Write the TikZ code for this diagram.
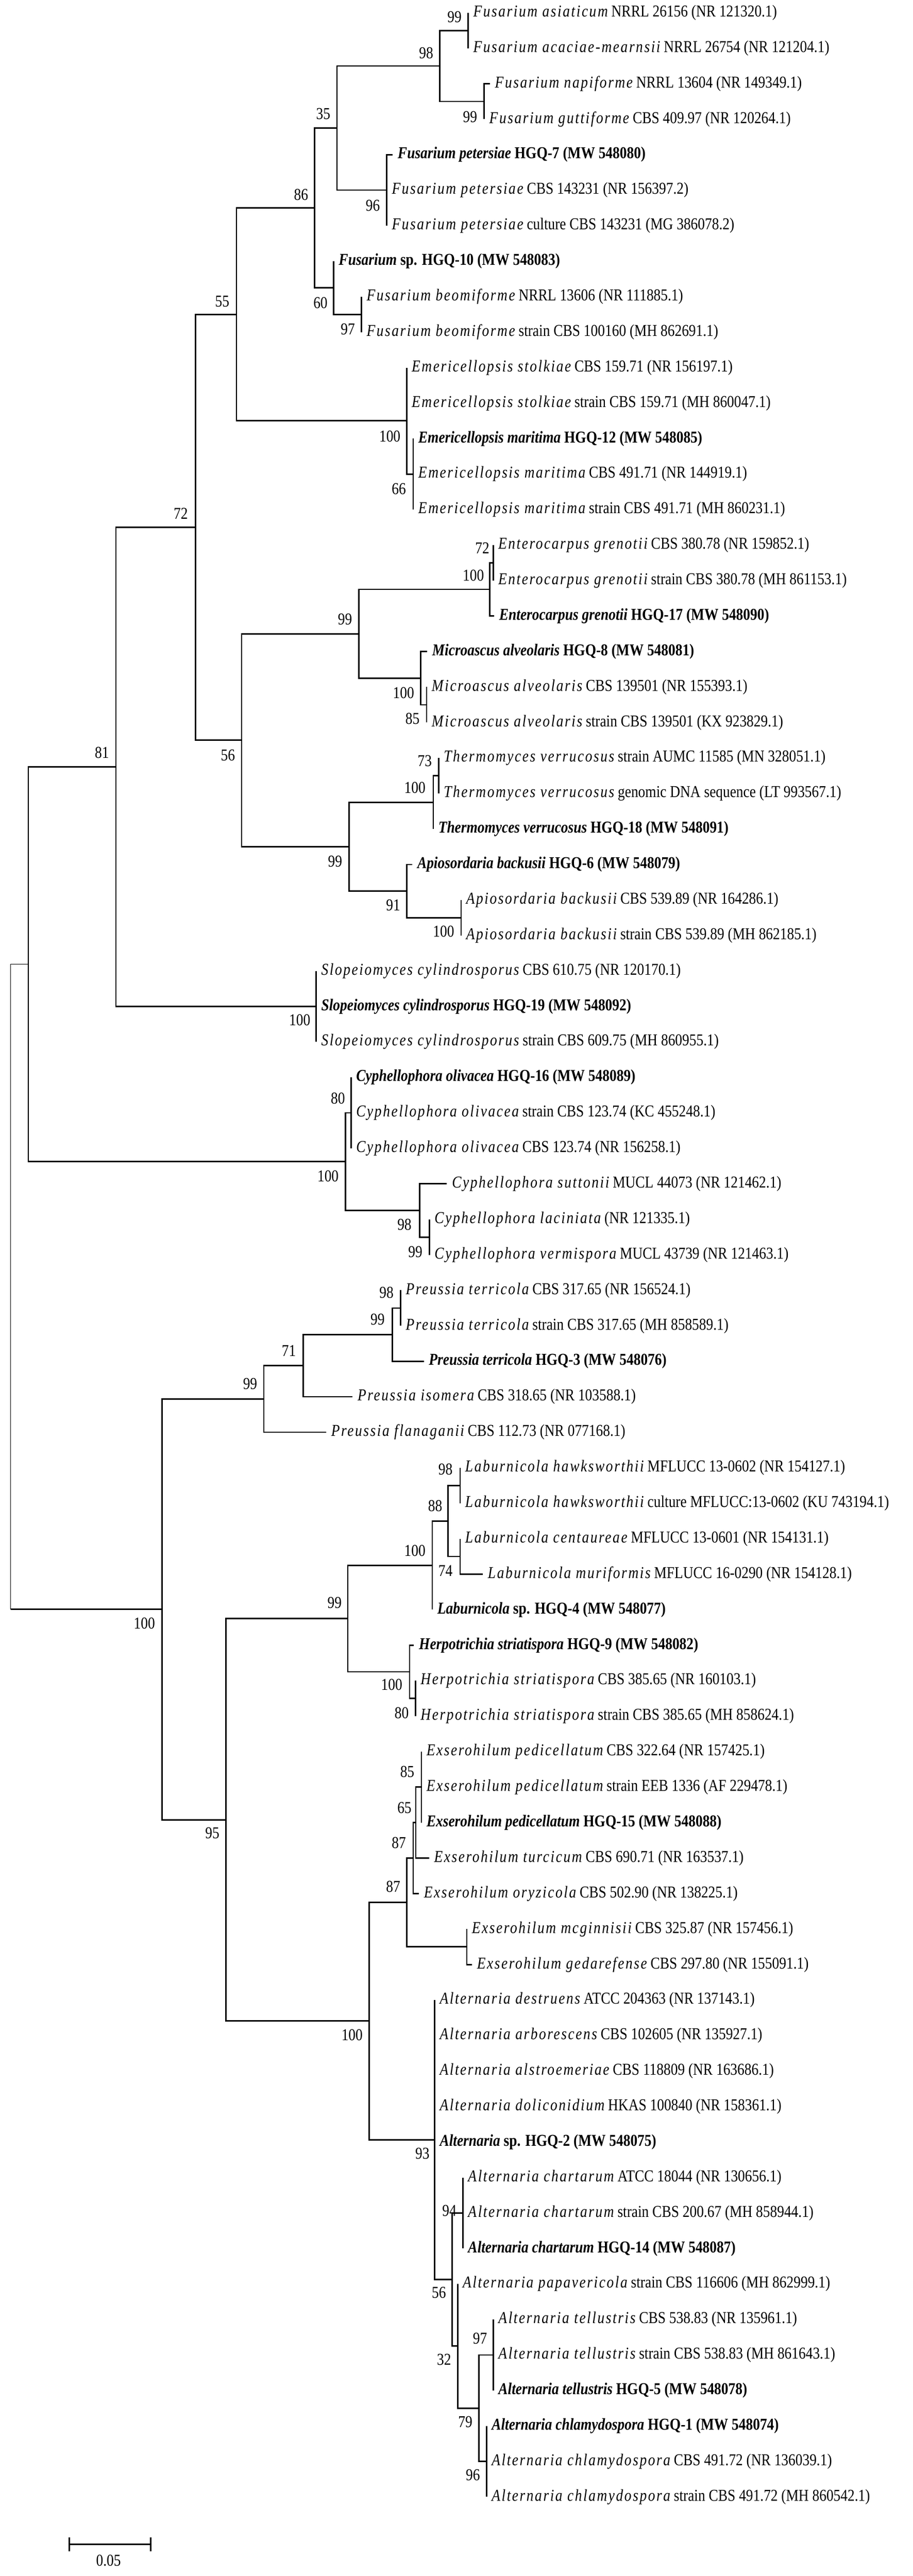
\documentclass[tikz,border=0pt]{standalone}
\usepackage{fontspec}
\setmainfont{Liberation Serif}[FakeStretch=0.85]
\usepackage{tikz}
% species names, spaced italics
\newcommand{\spn}[1]{{\itshape\addfontfeature{LetterSpace=8}#1}}
\begin{document}
\begin{tikzpicture}[x=0.25pt, y=-18.8pt, font=\fontsize{8.8}{9}\selectfont,
    br/.style={line width=0.75pt},
    leaf/.style={anchor=west, inner xsep=2.5pt, inner ysep=0pt},
    hgq/.style={leaf, font=\fontsize{8.8}{9}\selectfont\bfseries},
    bs/.style={inner sep=0pt}]
\useasboundingbox (0,0.641) rectangle (1934,73.23);
% leaves
\node[leaf] (l1) at (992,1) {\spn{Fusarium asiaticum} NRRL 26156 (NR 121320.1)};
\node[leaf] (l2) at (992,2) {\spn{Fusarium acaciae-mearnsii} NRRL 26754 (NR 121204.1)};
\node[leaf] (l3) at (1038,3) {\spn{Fusarium napiforme} NRRL 13604 (NR 149349.1)};
\node[leaf] (l4) at (1026,4) {\spn{Fusarium guttiforme} CBS 409.97 (NR 120264.1)};
\node[hgq] (l5) at (832,5) {\textit{Fusarium petersiae} HGQ-7 (MW 548080)};
\node[leaf] (l6) at (819.5,6) {\spn{Fusarium petersiae} CBS 143231 (NR 156397.2)};
\node[leaf] (l7) at (819.5,7) {\spn{Fusarium petersiae} culture CBS 143231 (MG 386078.2)};
\node[hgq] (l8) at (707,8) {\textit{Fusarium} sp. HGQ-10 (MW 548083)};
\node[leaf] (l9) at (766,9) {\spn{Fusarium beomiforme} NRRL 13606 (NR 111885.1)};
\node[leaf] (l10) at (766,10) {\spn{Fusarium beomiforme} strain CBS 100160 (MH 862691.1)};
\node[leaf] (l11) at (861.6,11) {\spn{Emericellopsis stolkiae} CBS 159.71 (NR 156197.1)};
\node[leaf] (l12) at (861.6,12) {\spn{Emericellopsis stolkiae} strain CBS 159.71 (MH 860047.1)};
\node[hgq] (l13) at (875.6,13) {\textit{Emericellopsis maritima} HGQ-12 (MW 548085)};
\node[leaf] (l14) at (875.6,14) {\spn{Emericellopsis maritima} CBS 491.71 (NR 144919.1)};
\node[leaf] (l15) at (875.6,15) {\spn{Emericellopsis maritima} strain CBS 491.71 (MH 860231.1)};
\node[leaf] (l16) at (1045,16) {\spn{Enterocarpus grenotii} CBS 380.78 (NR 159852.1)};
\node[leaf] (l17) at (1045,17) {\spn{Enterocarpus grenotii} strain CBS 380.78 (MH 861153.1)};
\node[hgq] (l18) at (1047,18) {\textit{Enterocarpus grenotii} HGQ-17 (MW 548090)};
\node[hgq] (l19) at (905,19) {\textit{Microascus alveolaris} HGQ-8 (MW 548081)};
\node[leaf] (l20) at (904,20) {\spn{Microascus alveolaris} CBS 139501 (NR 155393.1)};
\node[leaf] (l21) at (904,21) {\spn{Microascus alveolaris} strain CBS 139501 (KX 923829.1)};
\node[leaf] (l22) at (929.6,22) {\spn{Thermomyces verrucosus} strain AUMC 11585 (MN 328051.1)};
\node[leaf] (l23) at (929.6,23) {\spn{Thermomyces verrucosus} genomic DNA sequence (LT 993567.1)};
\node[hgq] (l24) at (918,24) {\textit{Thermomyces verrucosus} HGQ-18 (MW 548091)};
\node[hgq] (l25) at (873.5,25) {\textit{Apiosordaria backusii} HGQ-6 (MW 548079)};
\node[leaf] (l26) at (977,26) {\spn{Apiosordaria backusii} CBS 539.89 (NR 164286.1)};
\node[leaf] (l27) at (977,27) {\spn{Apiosordaria backusii} strain CBS 539.89 (MH 862185.1)};
\node[leaf] (l28) at (670,28) {\spn{Slopeiomyces cylindrosporus} CBS 610.75 (NR 120170.1)};
\node[hgq] (l29) at (670,29) {\textit{Slopeiomyces cylindrosporus} HGQ-19 (MW 548092)};
\node[leaf] (l30) at (670,30) {\spn{Slopeiomyces cylindrosporus} strain CBS 609.75 (MH 860955.1)};
\node[hgq] (l31) at (744,31) {\textit{Cyphellophora olivacea} HGQ-16 (MW 548089)};
\node[leaf] (l32) at (744,32) {\spn{Cyphellophora olivacea} strain CBS 123.74 (KC 455248.1)};
\node[leaf] (l33) at (744,33) {\spn{Cyphellophora olivacea} CBS 123.74 (NR 156258.1)};
\node[leaf] (l34) at (947,34) {\spn{Cyphellophora suttonii} MUCL 44073 (NR 121462.1)};
\node[leaf] (l35) at (910,35) {\spn{Cyphellophora laciniata} (NR 121335.1)};
\node[leaf] (l36) at (910,36) {\spn{Cyphellophora vermispora} MUCL 43739 (NR 121463.1)};
\node[leaf] (l37) at (849,37) {\spn{Preussia terricola} CBS 317.65 (NR 156524.1)};
\node[leaf] (l38) at (849,38) {\spn{Preussia terricola} strain CBS 317.65 (MH 858589.1)};
\node[hgq] (l39) at (898,39) {\textit{Preussia terricola} HGQ-3 (MW 548076)};
\node[leaf] (l40) at (747,40) {\spn{Preussia isomera} CBS 318.65 (NR 103588.1)};
\node[leaf] (l41) at (691,41) {\spn{Preussia flanaganii} CBS 112.73 (NR 077168.1)};
\node[leaf] (l42) at (975,42) {\spn{Laburnicola hawksworthii} MFLUCC 13-0602 (NR 154127.1)};
\node[leaf] (l43) at (975,43) {\spn{Laburnicola hawksworthii} culture MFLUCC:13-0602 (KU 743194.1)};
\node[leaf] (l44) at (975,44) {\spn{Laburnicola centaureae} MFLUCC 13-0601 (NR 154131.1)};
\node[leaf] (l45) at (1023,45) {\spn{Laburnicola muriformis} MFLUCC 16-0290 (NR 154128.1)};
\node[hgq] (l46) at (916,46) {\textit{Laburnicola} sp. HGQ-4 (MW 548077)};
\node[hgq] (l47) at (877,47) {\textit{Herpotrichia striatispora} HGQ-9 (MW 548082)};
\node[leaf] (l48) at (880.5,48) {\spn{Herpotrichia striatispora} CBS 385.65 (NR 160103.1)};
\node[leaf] (l49) at (880.5,49) {\spn{Herpotrichia striatispora} strain CBS 385.65 (MH 858624.1)};
\node[leaf] (l50) at (893,50) {\spn{Exserohilum pedicellatum} CBS 322.64 (NR 157425.1)};
\node[leaf] (l51) at (893,51) {\spn{Exserohilum pedicellatum} strain EEB 1336 (AF 229478.1)};
\node[hgq] (l52) at (893,52) {\textit{Exserohilum pedicellatum} HGQ-15 (MW 548088)};
\node[leaf] (l53) at (909,53) {\spn{Exserohilum turcicum} CBS 690.71 (NR 163537.1)};
\node[leaf] (l54) at (887.5,54) {\spn{Exserohilum oryzicola} CBS 502.90 (NR 138225.1)};
\node[leaf] (l55) at (989,55) {\spn{Exserohilum mcginnisii} CBS 325.87 (NR 157456.1)};
\node[leaf] (l56) at (1000,56) {\spn{Exserohilum gedarefense} CBS 297.80 (NR 155091.1)};
\node[leaf] (l57) at (921,57) {\spn{Alternaria destruens} ATCC 204363 (NR 137143.1)};
\node[leaf] (l58) at (921,58) {\spn{Alternaria arborescens} CBS 102605 (NR 135927.1)};
\node[leaf] (l59) at (921,59) {\spn{Alternaria alstroemeriae} CBS 118809 (NR 163686.1)};
\node[leaf] (l60) at (921,60) {\spn{Alternaria doliconidium} HKAS 100840 (NR 158361.1)};
\node[hgq] (l61) at (921,61) {\textit{Alternaria} sp. HGQ-2 (MW 548075)};
\node[leaf] (l62) at (981,62) {\spn{Alternaria chartarum} ATCC 18044 (NR 130656.1)};
\node[leaf] (l63) at (981,63) {\spn{Alternaria chartarum} strain CBS 200.67 (MH 858944.1)};
\node[hgq] (l64) at (981,64) {\textit{Alternaria chartarum} HGQ-14 (MW 548087)};
\node[leaf] (l65) at (969.6,65) {\spn{Alternaria papavericola} strain CBS 116606 (MH 862999.1)};
\node[leaf] (l66) at (1045.4,66) {\spn{Alternaria tellustris} CBS 538.83 (NR 135961.1)};
\node[leaf] (l67) at (1045.4,67) {\spn{Alternaria tellustris} strain CBS 538.83 (MH 861643.1)};
\node[hgq] (l68) at (1045.4,68) {\textit{Alternaria tellustris} HGQ-5 (MW 548078)};
\node[hgq] (l69) at (1031,69) {\textit{Alternaria chlamydospora} HGQ-1 (MW 548074)};
\node[leaf] (l70) at (1031,70) {\spn{Alternaria chlamydospora} CBS 491.72 (NR 136039.1)};
\node[leaf] (l71) at (1031,71) {\spn{Alternaria chlamydospora} strain CBS 491.72 (MH 860542.1)};
% inner nodes
\coordinate (n99a) at (992,1.5);
\coordinate (n99b) at (1026,3.5);
\coordinate (n98) at (932,2.5);
\coordinate (n96) at (819.5,6);
\coordinate (n35) at (714,4.25);
\coordinate (n97) at (766,9.5);
\coordinate (n60) at (707,8.75);
\coordinate (n86) at (666.5,6.5);
\coordinate (n66) at (875.6,14);
\coordinate (n100e) at (861.6,12.5);
\coordinate (n55) at (501,9.5);
\coordinate (n72e) at (1045,16.5);
\coordinate (n100g) at (1038,17.25);
\coordinate (n85m) at (904,20.5);
\coordinate (n100m) at (891,19.75);
\coordinate (n99em) at (760,18.5);
\coordinate (n73t) at (929.6,22.5);
\coordinate (n100t) at (918,23.25);
\coordinate (n100a) at (977,26.5);
\coordinate (n91) at (861.6,25.75);
\coordinate (n99ta) at (740,24.5);
\coordinate (n56) at (512,21.5);
\coordinate (n72) at (414,15.5);
\coordinate (n100s) at (670,29);
\coordinate (n81) at (245.6,22.25);
\coordinate (n80) at (744,32);
\coordinate (n99c) at (910,35.5);
\coordinate (n98c) at (889,34.75);
\coordinate (n100c) at (732,33.375);
\coordinate (nA) at (60,27.81);
\coordinate (n98p) at (849,37.5);
\coordinate (n99p) at (831,38.25);
\coordinate (n71) at (642.7,39.125);
\coordinate (n99pp) at (559,40.06);
\coordinate (n98l) at (975,42.5);
\coordinate (n74) at (975,44.5);
\coordinate (n88) at (949,43.5);
\coordinate (n100l) at (916,44.75);
\coordinate (n80h) at (880.5,48.5);
\coordinate (n100h) at (868,47.75);
\coordinate (n99lh) at (737,46.25);
\coordinate (n85x) at (893,51);
\coordinate (n65) at (881,52);
\coordinate (n87a) at (875.6,53);
\coordinate (n99x) at (989,55.5);
\coordinate (n87b) at (861.6,54.25);
\coordinate (n94) at (981,63);
\coordinate (n97a) at (1045.4,67);
\coordinate (n96a) at (1031,70);
\coordinate (n79) at (1014.6,68.5);
\coordinate (n32) at (969.6,66.75);
\coordinate (n56a) at (957.7,64.875);
\coordinate (n93) at (921,60.94);
\coordinate (n100x) at (782,57.59);
\coordinate (n95) at (479,51.92);
\coordinate (n100b) at (343,45.99);
\coordinate (root) at (22.5,36.9);
% branches
\foreach \p/\c in {n99a/l1, n99a/l2, n99b/l3, n99b/l4, n98/n99a, n98/n99b,
    n96/l5, n96/l6, n96/l7, n35/n98, n35/n96, n97/l9, n97/l10, n60/l8, n60/n97,
    n86/n35, n86/n60, n66/l13, n66/l14, n66/l15, n100e/l11, n100e/l12, n100e/n66,
    n55/n86, n55/n100e, n72e/l16, n72e/l17, n100g/n72e, n100g/l18,
    n85m/l20, n85m/l21, n100m/l19, n100m/n85m, n99em/n100g, n99em/n100m,
    n73t/l22, n73t/l23, n100t/n73t, n100t/l24, n100a/l26, n100a/l27,
    n91/l25, n91/n100a, n99ta/n100t, n99ta/n91, n56/n99em, n56/n99ta,
    n72/n55, n72/n56, n100s/l28, n100s/l29, n100s/l30, n81/n72, n81/n100s,
    n80/l31, n80/l32, n80/l33, n99c/l35, n99c/l36, n98c/l34, n98c/n99c,
    n100c/n80, n100c/n98c, nA/n81, nA/n100c,
    n98p/l37, n98p/l38, n99p/n98p, n99p/l39, n71/n99p, n71/l40,
    n99pp/n71, n99pp/l41, n98l/l42, n98l/l43, n74/l44, n74/l45,
    n88/n98l, n88/n74, n100l/n88, n100l/l46, n80h/l48, n80h/l49,
    n100h/l47, n100h/n80h, n99lh/n100l, n99lh/n100h,
    n85x/l50, n85x/l51, n85x/l52, n65/n85x, n65/l53, n87a/n65, n87a/l54,
    n99x/l55, n99x/l56, n87b/n87a, n87b/n99x,
    n94/l62, n94/l63, n94/l64, n97a/l66, n97a/l67, n97a/l68,
    n96a/l69, n96a/l70, n96a/l71, n79/n97a, n79/n96a, n32/l65, n32/n79,
    n56a/n94, n56a/n32, n93/l57, n93/l58, n93/l59, n93/l60, n93/l61, n93/n56a,
    n100x/n87b, n100x/n93, n95/n99lh, n95/n100x, n100b/n99pp, n100b/n95}
  \draw[br] (\p) |- (\c);
% root
\draw (root) |- (nA);
\draw (root) |- (n100b);
\draw[br] (root |- n100b) -- (n100b);
% bootstrap values
\node[bs] (b1) at (963,1.12) {99};
\node[bs] (b2) at (903,2.13) {98};
\node[bs] (b3) at (996,3.94) {99};
\node[bs] (b4) at (685,3.85) {35};
\node[bs] (b5) at (638,6.13) {86};
\node[bs] (b6) at (790,6.44) {96};
\node[bs] (b7) at (471,9.13) {55};
\node[bs] (b8) at (679,9.17) {60};
\node[bs] (b9) at (737,9.92) {97};
\node[bs] (b10) at (826,12.93) {100};
\node[bs] (b11) at (845,14.42) {66};
\node[bs] (b12) at (383,15.11) {72};
\node[bs] (b13) at (1022,16.08) {72};
\node[bs] (b14) at (1003,16.85) {100};
\node[bs] (b15) at (731,18.09) {99};
\node[bs] (b16) at (855,20.16) {100};
\node[bs] (b17) at (874,20.89) {85};
\node[bs] (b18) at (216,21.85) {81};
\node[bs] (b19) at (483,21.92) {56};
\node[bs] (b20) at (900,22.09) {73};
\node[bs] (b21) at (879,22.84) {100};
\node[bs] (b22) at (710,24.91) {99};
\node[bs] (b23) at (833,26.15) {91};
\node[bs] (b24) at (940,26.89) {100};
\node[bs] (b25) at (635,29.39) {100};
\node[bs] (b26) at (716,31.59) {80};
\node[bs] (b27) at (695,33.78) {100};
\node[bs] (b28) at (857,35.15) {98};
\node[bs] (b29) at (880,35.92) {99};
\node[bs] (b30) at (819,37.06) {98};
\node[bs] (b31) at (800,37.82) {99};
\node[bs] (b32) at (612,38.71) {71};
\node[bs] (b33) at (530,39.63) {99};
\node[bs] (b34) at (944,42.05) {98};
\node[bs] (b35) at (922,43.07) {88};
\node[bs] (b36) at (879,44.34) {100};
\node[bs] (b37) at (944,44.91) {74};
\node[bs] (b38) at (709,45.80) {99};
\node[bs] (b39) at (306,46.38) {100};
\node[bs] (b40) at (830,48.11) {100};
\node[bs] (b41) at (851,48.91) {80};
\node[bs] (b42) at (863,50.57) {85};
\node[bs] (b43) at (857,51.58) {65};
\node[bs] (b44) at (450,52.30) {95};
\node[bs] (b45) at (845,52.57) {87};
\node[bs] (b46) at (833,53.81) {87};
\node[bs] (b47) at (746,57.98) {100};
\node[bs] (b48) at (895,61.32) {93};
\node[bs] (b49) at (952,62.93) {94};
\node[bs] (b50) at (930,65.24) {56};
\node[bs] (b51) at (1017,66.54) {97};
\node[bs] (b52) at (941,67.13) {32};
\node[bs] (b53) at (986,68.89) {79};
\node[bs] (b54) at (1002,70.38) {96};
% scale bar
\coordinate (s0) at (147,72.34);
\coordinate (s1) at (319,72.34);
\draw[br] (s0) -- (s1);
\draw[br] ([yshift=-3.75pt]s0) -- ([yshift=3.75pt]s0);
\draw[br] ([yshift=-3.75pt]s1) -- ([yshift=3.75pt]s1);
\node[bs] (sc) at (230,72.79) {0.05};
\end{tikzpicture}
\end{document}
